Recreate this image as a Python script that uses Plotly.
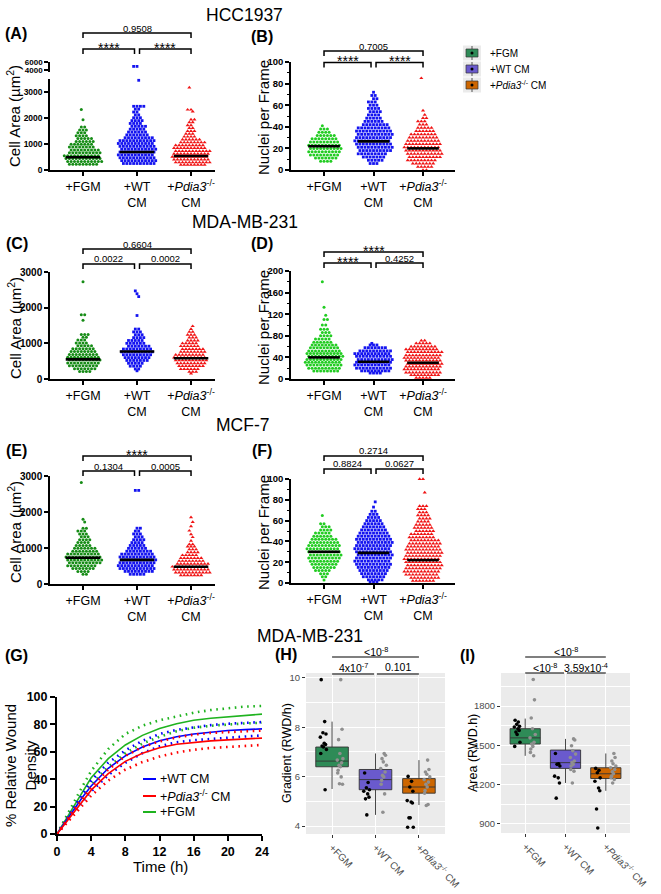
import plotly.graph_objects as go

W, H = 661, 894
FONT = "Arial, 'Liberation Sans', sans-serif"

# ---------------- DATA ----------------
cat_labels_prism = ["+FGM", "+WT<br>CM", "+<i>Pdia3</i><sup>-/-</sup><br>CM"]
cat_labels_gg = ["+FGM", "+WT CM", "+<i>Pdia3</i><sup>-/-</sup> CM"]
legend_labels = ["+FGM", "+WT CM", "+<i>Pdia3</i><sup>-/-</sup> CM"]
row_titles = ["HCC1937", "MDA-MB-231", "MCF-7", "MDA-MB-231"]

# swarm rows: (value, number of dots in that row)
hcc_area_fgm = [(2330,1),(1930,1),(1650,2),(1540,3),(1430,3),(1320,4),(1210,5),(1100,6),(990,7),(880,8),
                (770,9),(660,10),(550,11),(440,11),(330,11),(220,9)]
hcc_area_wt = [(4900,2),(3450,1),(2450,4),(2340,2),(2230,2),(2120,2),(2010,3),(1900,4),(1790,4),(1680,5),
               (1570,5),(1460,6),(1350,7),(1240,9),(1130,11),(1020,11),(910,11),(800,11),(690,11),(580,11),
               (470,11),(360,11),(250,10)]
hcc_area_pd = [(3170,1),(2320,2),(2250,1),(1940,2),(1830,2),(1720,2),(1610,2),(1500,3),(1390,3),(1280,4),
               (1170,6),(1060,8),(950,9),(840,10),(730,11),(620,11),(510,11),(400,11),(290,11),(200,8)]
hcc_area_mean = [490, 690, 540]
hcc_area_p = ["0.9508", "****", "****"]

hcc_nuc_fgm = [(41,1),(38,3),(35,4),(32,6),(29,8),(26,9),(23,10),(20,10),(17,10),(14,9),(11,7),(8,4)]
hcc_nuc_wt = [(72,1),(69,2),(66,2),(63,3),(60,3),(57,4),(54,4),(51,4),(48,5),(45,6),(42,8),(39,10),(36,11),
              (33,11),(30,11),(27,11),(24,11),(21,11),(18,10),(15,9),(12,7),(9,5),(6,3)]
hcc_nuc_pd = [(85,1),(55,1),(51,1),(48,2),(45,3),(42,3),(39,5),(36,6),(33,8),(30,9),(27,10),(24,11),(21,11),
              (18,11),(15,11),(12,10),(9,9),(6,7),(3,5),(0,2)]
hcc_nuc_mean = [22, 26.5, 20]
hcc_nuc_p = ["0.7005", "****", "****"]

mda_area_fgm = [(2730,1),(1800,2),(1650,1),(1250,3),(1170,2),(1090,3),(1010,4),(930,5),(850,7),(770,8),
                (690,9),(610,10),(530,10),(450,10),(370,9),(290,7),(210,4)]
mda_area_wt = [(2470,1),(2390,1),(2310,1),(1780,1),(1400,2),(1320,3),(1240,3),(1160,4),(1080,5),(1000,6),
               (920,7),(840,9),(760,10),(680,9),(600,8),(520,7),(440,5),(360,4),(280,2),(230,1)]
mda_area_pd = [(1480,1),(1400,1),(1320,2),(1240,3),(1160,3),(1080,4),(1000,5),(920,6),(840,7),(760,8),
               (680,9),(600,10),(520,10),(440,9),(360,8),(280,6),(200,3),(150,1)]
mda_area_mean = [550, 770, 580]
mda_area_p = ["0.6604", "0.0022", "0.0002"]

mda_nuc_fgm = [(180,1),(133,1),(118,1),(110,2),(100,2),(92,3),(86,3),(80,4),(74,5),(68,6),(63,8),(58,9),
               (52,10),(47,11),(42,11),(36,11),(31,11),(26,11),(20,10),(15,8)]
mda_nuc_wt = [(66,1),(63,3),(58,7),(52,10),(47,11),(42,11),(36,11),(31,11),(26,11),(20,11),(15,9),(11,4)]
mda_nuc_pd = [(71,2),(66,5),(60,8),(55,10),(50,11),(44,11),(39,11),(34,11),(28,11),(23,11),(18,11),
              (12,11),(7,9),(2,5)]
mda_nuc_mean = [40, 32, 30]
mda_nuc_p = ["****", "****", "0.4252"]

mcf_area_fgm = [(2820,1),(1800,1),(1720,1),(1550,2),(1470,3),(1390,3),(1310,3),(1230,4),(1150,4),(1070,5),
                (990,7),(910,8),(830,10),(750,11),(670,11),(590,10),(510,9),(430,7),(350,4),(270,2)]
mcf_area_wt = [(2600,2),(1550,2),(1470,2),(1390,3),(1310,3),(1230,4),(1150,4),(1070,5),(990,6),(910,8),
               (830,10),(750,11),(670,11),(590,11),(510,11),(430,11),(350,9),(270,5)]
mcf_area_pd = [(1850,1),(1720,1),(1600,1),(1480,1),(1380,1),(1300,1),(1200,1),(1100,2),(1040,3),(960,3),
               (880,4),(800,5),(720,7),(640,8),(560,10),(480,11),(400,11),(320,11),(240,7)]
mcf_area_mean = [730, 670, 480]
mcf_area_p = ["****", "0.1304", "0.0005"]

mcf_nuc_fgm = [(65,1),(57,2),(54,3),(51,4),(48,5),(45,6),(42,8),(39,9),(36,10),(33,10),(30,10),(27,10),
               (24,10),(21,9),(18,8),(15,7),(12,5),(9,3),(6,2),(3,1)]
mcf_nuc_wt = [(78,1),(73,1),(69,2),(66,3),(63,4),(60,5),(57,6),(54,7),(51,8),(48,9),(45,10),(42,11),
              (39,11),(36,11),(33,11),(30,11),(27,11),(24,11),(21,11),(18,11),(15,10),(12,9),(9,8),(6,7),(3,5),(1,3)]
mcf_nuc_pd = [(100,2),(87,1),(74,3),(71,3),(68,3),(65,4),(62,4),(59,4),(56,5),(53,6),(50,6),(47,7),(44,8),
              (41,9),(38,10),(35,10),(32,11),(29,11),(26,11),(23,11),(20,11),(17,11),(14,11),(11,11),(8,10),
              (5,9),(2,7)]
mcf_nuc_mean = [30, 29, 22]
mcf_nuc_p = ["0.2714", "0.8824", "0.0627"]

# wound density time courses
time_h = [0, 1, 2, 3, 4, 6, 8, 10, 12, 14, 16, 18, 20, 22, 24]
fgm_mean = [0, 10, 21, 31, 41, 55, 65, 72, 77, 80.5, 83, 84.5, 85.5, 86.5, 87.5]
fgm_upper = [0, 12, 24, 35, 46, 62, 73, 79, 83, 86, 88.5, 90.5, 92, 93, 93.5]
fgm_lower = [0, 9, 18, 27, 36, 49, 59, 66, 71, 75, 77.5, 79, 80, 80.7, 81.2]
wt_mean = [0, 9, 18, 27, 35, 48, 57, 63.5, 68, 71, 73, 74.5, 75.5, 76.2, 76.7]
wt_upper = [0, 10, 20, 30, 39, 52, 61, 68, 73, 76, 78, 79.5, 80.5, 81.2, 81.7]
wt_lower = [0, 8, 16, 24, 31, 43, 52, 59, 64, 67, 68.5, 69.5, 70.5, 71.3, 72]
pd_mean = [0, 8, 16, 24, 32, 44, 53, 59, 63, 65.5, 67, 68, 68.7, 69.4, 70]
pd_upper = [0, 9, 18, 26, 34, 47, 57, 63.5, 67.5, 70.5, 72.5, 73.8, 74.5, 75, 75.5]
pd_lower = [0, 7, 14, 21, 28, 39, 47, 52.5, 56.5, 59.5, 61.5, 62.8, 63.5, 64.2, 65]
wound_legend = ["+WT CM", "+<i>Pdia3</i><sup>-/-</sup> CM", "+FGM"]

# gradient (H)
grad_q1 = [6.40, 5.47, 5.33]
grad_med = [6.63, 5.88, 5.58]
grad_q3 = [7.20, 6.29, 5.92]
grad_lo = [5.50, 4.45, 4.85]
grad_hi = [8.23, 6.94, 6.67]
grad_black = [[9.93, 8.23, 7.78, 7.73, 7.6, 7.35, 7.3, 7.24, 7.2, 7.1, 6.94, 5.47],
              [6.15, 5.76, 5.55, 5.47, 5.41, 5.3, 5.17, 5.1, 4.45],
              [6.01, 5.81, 5.58, 5.41, 5.03, 4.97, 4.93, 4.33, 4.33, 3.95, 3.95]]
grad_gray = [[9.93, 7.92, 7.5, 6.94, 6.73, 6.67, 6.56, 6.46, 6.4, 6.26, 6.15, 5.99, 5.71, 5.69],
             [6.94, 6.87, 6.73, 6.6, 6.46, 6.33, 6.19, 6.05, 5.99, 5.85, 5.69, 5.3, 4.56],
             [6.67, 6.29, 6.19, 6.1, 5.99, 5.88, 5.78, 5.69, 5.58, 5.44, 5.33, 4.87, 4.83]]
grad_p = ["&lt;10<sup>-8</sup>", "4x10<sup>-7</sup>", "0.101"]

# area (I)
area_q1 = [1510, 1324, 1247]
area_med = [1557, 1368, 1283]
area_q3 = [1627, 1464, 1329]
area_lo = [1420, 1213, 1153]
area_hi = [1704, 1549, 1438]
area_black = [[1691, 1678, 1660, 1645, 1640, 1627, 1614, 1601, 1583, 1523, 1492],
              [1438, 1360, 1355, 1342, 1265, 1252, 1213, 1097],
              [1324, 1309, 1291, 1252, 1226, 1174, 1153, 1014, 869]]
area_gray = [[2002, 1847, 1709, 1627, 1583, 1557, 1523, 1510, 1492, 1472, 1446, 1420],
             [1549, 1541, 1497, 1459, 1433, 1407, 1381, 1368, 1355, 1342, 1316, 1303, 1213],
             [1438, 1407, 1381, 1360, 1342, 1329, 1316, 1298, 1283, 1265, 1252, 1239, 1213]]
area_p = ["&lt;10<sup>-8</sup>", "&lt;10<sup>-8</sup>", "3.59x10<sup>-4</sup>"]

# ---------------- STYLE ----------------
DKGREEN, LTGREEN, BLUE, RED = "#168C16", "#22CC22", "#1414F0", "#F01414"
BOX_COLORS = ["#2E8B57", "#6A5ACD", "#CD6600"]
SYMS = ["circle", "square", "triangle-up"]
SIZES = [3.0, 2.8, 3.6]
DOT_PX = 3.4
JIT = [-0.05, 0.03, -0.01, 0.06, -0.07, 0.02, 0.05, -0.03, 0.0, 0.07, -0.06, 0.04, -0.02, 0.01, -0.04]

XR_L = [-0.611, 2.444]
XR_R = [-0.667, 2.646]

fig = go.Figure()
layout = dict(width=W, height=H, autosize=False,
              margin=dict(l=0, r=0, t=0, b=0, pad=0, autoexpand=False), paper_bgcolor="white",
              plot_bgcolor="rgba(0,0,0,0)", showlegend=False, hovermode=False,
              font=dict(family=FONT, color="black"))
shapes, annotations = [], []


def dx_(t, b):
    return [t / W, b / W]


def dy_(t, b):
    return [1 - b / H, 1 - t / H]


def ann(text, x, y, size, bold=False, xanchor="center", yanchor="middle", angle=0, color="black"):
    if bold:
        text = "<b>" + text + "</b>"
    annotations.append(dict(text=text, x=x / W, y=1 - y / H, xref="paper", yref="paper", showarrow=False,
                            font=dict(size=size, family=FONT, color=color), xanchor=xanchor,
                            yanchor=yanchor, textangle=angle))


def swarm(rows, cat, dx, keep):
    xs, ys = [], []
    for r, (v, n) in enumerate(sorted(rows)):
        if not keep(v):
            continue
        shift = dx / 2 if (n % 2) != ((r + 1) % 2) else 0.0
        if r % 4 >= 2:
            shift = -shift
        for k in range(n):
            xs.append(cat + (k - (n - 1) / 2) * dx + shift)
            ys.append(v)
    return xs, ys


def prism_x(x0, x1, xr, anchor):
    return dict(domain=dx_(x0, x1), range=xr, anchor=anchor, showline=True, linecolor="black", linewidth=1.5,
                ticks="outside", ticklen=4, tickwidth=1.5, tickcolor="black", tickvals=[0, 1, 2],
                ticktext=cat_labels_prism, tickfont=dict(size=12.5, family=FONT, color="black"),
                showgrid=False, zeroline=False, automargin=False)


def prism_y(y0, y1, yr, anchor, dtick, tsize, tickvals=None, minor=None):
    d = dict(domain=dy_(y0, y1), range=yr, anchor=anchor, showline=True, linecolor="black", linewidth=1.5,
             ticks="outside", ticklen=4, tickwidth=1.5, tickcolor="black",
             tickfont=dict(size=tsize, family=FONT, color="black", weight="bold"),
             showgrid=False, zeroline=False, automargin=False)
    if tickvals is not None:
        d["tickvals"] = tickvals
    else:
        d["tick0"] = 0
        d["dtick"] = dtick
    if minor:
        d["minor"] = dict(ticks="outside", ticklen=2.5, tickwidth=1, tickcolor="black", dtick=minor)
    return d


prism_panels = [
    dict(lab="(A)", xk="xaxis", yk="yaxis", xid="x", yid="y", x0=50, x1=215, y0=79, y1=170, xr=XR_L,
         yr=[0, 3500], dtick=1000, tsize=8.5, minor=None, rows=[hcc_area_fgm, hcc_area_wt, hcc_area_pd],
         mean=hcc_area_mean, p=hcc_area_p, green=DKGREEN, btop=33, blow=49, tx=14, ty=116, lx=16, ly=33,
         title="Cell Area (µm<sup>2</sup>)", split=3500),
    dict(lab="(B)", xk="xaxis2", yk="yaxis3", xid="x2", yid="y3", x0=291, x1=455, y0=62, y1=170, xr=XR_R,
         yr=[0, 100], dtick=20, tsize=9.5, minor=10, rows=[hcc_nuc_fgm, hcc_nuc_wt, hcc_nuc_pd],
         mean=hcc_nuc_mean, p=hcc_nuc_p, green=LTGREEN, btop=51, blow=62.5, tx=263, ty=118, lx=262, ly=37,
         title="Nuclei per Frame", split=None),
    dict(lab="(C)", xk="xaxis3", yk="yaxis4", xid="x3", yid="y4", x0=50, x1=215, y0=272, y1=379, xr=XR_L,
         yr=[0, 3000], dtick=1000, tsize=10, minor=None, rows=[mda_area_fgm, mda_area_wt, mda_area_pd],
         mean=mda_area_mean, p=mda_area_p, green=DKGREEN, btop=249, blow=264, tx=14, ty=328, lx=17, ly=243,
         title="Cell Area (µm<sup>2</sup>)", split=None),
    dict(lab="(D)", xk="xaxis4", yk="yaxis5", xid="x4", yid="y5", x0=291, x1=455, y0=271, y1=379, xr=XR_R,
         yr=[0, 200], dtick=40, tsize=9.5, minor=20, rows=[mda_nuc_fgm, mda_nuc_wt, mda_nuc_pd],
         mean=mda_nuc_mean, p=mda_nuc_p, green=LTGREEN, btop=252, blow=263, tx=263, ty=328, lx=262, ly=243,
         title="Nuclei per Frame", split=None),
    dict(lab="(E)", xk="xaxis5", yk="yaxis6", xid="x5", yid="y6", x0=50, x1=215, y0=476, y1=584, xr=XR_L,
         yr=[0, 3000], dtick=1000, tsize=10, minor=None, rows=[mcf_area_fgm, mcf_area_wt, mcf_area_pd],
         mean=mcf_area_mean, p=mcf_area_p, green=DKGREEN, btop=456, blow=471, tx=14, ty=532, lx=16, ly=450,
         title="Cell Area (µm<sup>2</sup>)", split=None),
    dict(lab="(F)", xk="xaxis6", yk="yaxis7", xid="x6", yid="y7", x0=291, x1=455, y0=479, y1=583, xr=XR_R,
         yr=[0, 100], dtick=20, tsize=9.5, minor=10, rows=[mcf_nuc_fgm, mcf_nuc_wt, mcf_nuc_pd],
         mean=mcf_nuc_mean, p=mcf_nuc_p, green=LTGREEN, btop=456, blow=469, tx=263, ty=533, lx=262, ly=450,
         title="Nuclei per Frame", split=None),
]

for P in prism_panels:
    layout[P["xk"]] = prism_x(P["x0"], P["x1"], P["xr"], P["yid"])
    layout[P["yk"]] = prism_y(P["y0"], P["y1"], P["yr"], P["xid"], P["dtick"], P["tsize"], minor=P["minor"])
    dx = DOT_PX * (P["xr"][1] - P["xr"][0]) / (P["x1"] - P["x0"])
    colors = [P["green"], BLUE, RED]
    split = P["split"]
    for gi, rows in enumerate(P["rows"]):
        xs, ys = swarm(rows, gi, dx, (lambda v: v <= split) if split else (lambda v: True))
        fig.add_trace(go.Scatter(x=xs, y=ys, mode="markers", xaxis=P["xid"], yaxis=P["yid"],
                                 marker=dict(symbol=SYMS[gi], size=SIZES[gi], color=colors[gi], line_width=0),
                                 cliponaxis=False))
        if split:
            xs2, ys2 = swarm(rows, gi, dx, lambda v: v > split)
            if xs2:
                fig.add_trace(go.Scatter(x=xs2, y=ys2, mode="markers", xaxis=P["xid"], yaxis="y2",
                                         marker=dict(symbol=SYMS[gi], size=SIZES[gi], color=colors[gi],
                                                     line_width=0), cliponaxis=False))
    mx, my = [], []
    for gi, m in enumerate(P["mean"]):
        mx += [gi - 0.32, gi + 0.32, None]
        my += [m, m, None]
    fig.add_trace(go.Scatter(x=mx, y=my, mode="lines", line=dict(color="black", width=2.6),
                             xaxis=P["xid"], yaxis=P["yid"]))

    def cpx(c, P=P):
        return P["x0"] + (c - P["xr"][0]) / (P["xr"][1] - P["xr"][0]) * (P["x1"] - P["x0"])
    tip, gap = 5, 2.5
    segs = [(cpx(0), cpx(2), P["btop"]), (cpx(0), cpx(1) - gap, P["blow"]), (cpx(1) + gap, cpx(2), P["blow"])]
    for (a, b, yy), lab in zip(segs, P["p"]):
        path = "M {:.5f},{:.5f} L {:.5f},{:.5f} L {:.5f},{:.5f} L {:.5f},{:.5f}".format(
            a / W, 1 - (yy + tip) / H, a / W, 1 - yy / H, b / W, 1 - yy / H, b / W, 1 - (yy + tip) / H)
        shapes.append(dict(type="path", path=path, xref="paper", yref="paper",
                           line=dict(color="black", width=1.5)))
        if lab.startswith("*"):
            ann(lab, (a + b) / 2, yy - 1.5, 14)
        else:
            ann(lab, (a + b) / 2, yy - 5, 9.5)
    ann(P["title"], P["tx"], P["ty"], 15, angle=-90)
    ann(P["lab"], P["lx"], P["ly"], 16, bold=True)

# upper broken segment of panel A
layout["yaxis2"] = prism_y(62, 72, [3500, 6000], "x", None, 8, tickvals=[4000, 6000])

# ---------------- G: wound density ----------------
layout["xaxis7"] = dict(domain=dx_(57, 262), range=[0, 24], anchor="y8", showline=True, linecolor="black",
                        linewidth=2, ticks="outside", ticklen=5, tickwidth=2, tickcolor="black", tick0=0, dtick=4,
                        tickfont=dict(size=12.5, family=FONT, color="black", weight="bold"),
                        showgrid=False, zeroline=False, automargin=False)
layout["yaxis8"] = dict(domain=dy_(697, 834), range=[0, 100], anchor="x7", showline=True, linecolor="black",
                        linewidth=2, ticks="outside", ticklen=5, tickwidth=2, tickcolor="black", tick0=0, dtick=20,
                        tickfont=dict(size=12.5, family=FONT, color="black", weight="bold"),
                        showgrid=False, zeroline=False, automargin=False)
GGREEN, GBLUE, GRED = "#1FB31F", "#0000FF", "#FF0000"
for series, col in [((fgm_upper, fgm_lower, fgm_mean), GGREEN), ((wt_upper, wt_lower, wt_mean), GBLUE),
                    ((pd_upper, pd_lower, pd_mean), GRED)]:
    up, lo, mn = series
    for ys in (up, lo):
        fig.add_trace(go.Scatter(x=time_h, y=ys, mode="lines", xaxis="x7", yaxis="y8",
                                 line=dict(color=col, width=2.6, dash="1.6px,4.6px")))
    fig.add_trace(go.Scatter(x=time_h, y=mn, mode="lines", xaxis="x7", yaxis="y8",
                             line=dict(color=col, width=1.6)))
for i, (lab, col) in enumerate(zip(wound_legend, [GBLUE, GRED, GGREEN])):
    yy = [779, 796, 812][i]
    shapes.append(dict(type="line", xref="paper", yref="paper", x0=143 / W, x1=156 / W, y0=1 - yy / H,
                       y1=1 - yy / H, line=dict(color=col, width=2)))
    ann(lab, 158, yy, 12.5, xanchor="left")
ann("Time (h)", 160, 866, 15)
ann("% Relative Wound<br>Density", 20, 766, 15, angle=-90)
ann("(G)", 16, 655, 16, bold=True)


# ---------------- H & I: ggplot style ----------------
def gg_x(x0, x1, anchor):
    return dict(domain=dx_(x0, x1), range=[-0.6, 2.6], anchor=anchor, showline=False, ticks="outside",
                ticklen=3, tickwidth=1, tickcolor="#333333", tickvals=[0, 1, 2], ticktext=cat_labels_gg,
                tickangle=45, tickfont=dict(size=10, family=FONT, color="#4D4D4D"), showgrid=True,
                gridcolor="white", gridwidth=1.1, zeroline=False, automargin=False)


def gg_y(y0, y1, yr, anchor, tick0, dtick):
    return dict(domain=dy_(y0, y1), range=yr, anchor=anchor, showline=False, ticks="outside", ticklen=3,
                tickwidth=1, tickcolor="#333333", tick0=tick0, dtick=dtick,
                tickfont=dict(size=9.5, family=FONT, color="#4D4D4D"), showgrid=True, gridcolor="white",
                gridwidth=1.1, zeroline=False, automargin=False,
                minor=dict(dtick=dtick / 2, tick0=tick0, showgrid=True, gridcolor="white", gridwidth=0.5))


layout["xaxis8"] = gg_x(306, 445, "y9")
layout["yaxis9"] = gg_y(673, 834, [3.676, 10.2], "x8", 4, 2)
layout["xaxis9"] = gg_x(501, 630, "y10")
layout["yaxis10"] = gg_y(673, 833, [831, 2052], "x9", 900, 300)

for xa, ya in [("x8", "y9"), ("x9", "y10")]:
    shapes.append(dict(type="rect", xref=xa + " domain", yref=ya + " domain", x0=0, x1=1, y0=0, y1=1,
                       fillcolor="#EBEBEB", line_width=0, layer="below"))

for (xa, ya, q1, med, q3, lo, hi, blk, gry) in [
        ("x8", "y9", grad_q1, grad_med, grad_q3, grad_lo, grad_hi, grad_black, grad_gray),
        ("x9", "y10", area_q1, area_med, area_q3, area_lo, area_hi, area_black, area_gray)]:
    for gi in range(3):
        fig.add_trace(go.Box(x=[gi], q1=[q1[gi]], median=[med[gi]], q3=[q3[gi]], lowerfence=[lo[gi]],
                             upperfence=[hi[gi]], width=0.75, fillcolor=BOX_COLORS[gi], orientation="v",
                             line=dict(color="#333333", width=0.9), whiskerwidth=0, boxpoints=False,
                             xaxis=xa, yaxis=ya))
    for gi in range(3):
        bx = [gi - 0.2 + JIT[i % len(JIT)] for i in range(len(blk[gi]))]
        gx = [gi + 0.18 + JIT[(i + 5) % len(JIT)] for i in range(len(gry[gi]))]
        fig.add_trace(go.Scatter(x=gx, y=gry[gi], mode="markers", xaxis=xa, yaxis=ya,
                                 marker=dict(color="#8F8F8F", size=3.6, line_width=0)))
        fig.add_trace(go.Scatter(x=bx, y=blk[gi], mode="markers", xaxis=xa, yaxis=ya,
                                 marker=dict(color="black", size=3.6, line_width=0)))


def gg_brackets(x0, x1, p, top, low, tlab, llab):
    def cpx(c):
        return x0 + (c + 0.6) / 3.2 * (x1 - x0)
    segs = [(cpx(0), cpx(2), top, tlab), (cpx(0), cpx(1) - 1.5, low, llab), (cpx(1) + 1.5, cpx(2), low, llab)]
    for (a, b, yy, ly), lab in zip(segs, p):
        shapes.append(dict(type="line", xref="paper", yref="paper", x0=a / W, x1=b / W, y0=1 - yy / H,
                           y1=1 - yy / H, line=dict(color="black", width=1.2)))
        ann(lab, (a + b) / 2, ly, 10.5)


gg_brackets(306, 445, grad_p, 657, 674, 651, 667)
gg_brackets(501, 630, area_p, 657, 673, 651, 667)
ann("Gradient (RWD/h)", 287, 753, 12.5, angle=-90)
ann("Area (RWD.h)", 473, 753, 12.5, angle=-90)
ann("(H)", 286, 654, 16, bold=True)
ann("(I)", 467, 655, 16, bold=True)

# legend (top right)
for i, (lab, col) in enumerate(zip(legend_labels, BOX_COLORS)):
    cy = [53, 69, 85][i]
    shapes.append(dict(type="rect", xref="paper", yref="paper", x0=463 / W, x1=481 / W, y0=1 - (cy + 7.5) / H,
                       y1=1 - (cy - 7.5) / H, fillcolor="#EBEBEB", line_width=0))
    shapes.append(dict(type="line", xref="paper", yref="paper", x0=472 / W, x1=472 / W, y0=1 - (cy + 7) / H,
                       y1=1 - (cy - 7) / H, line=dict(color="#555555", width=1)))
    shapes.append(dict(type="rect", xref="paper", yref="paper", x0=466 / W, x1=478 / W, y0=1 - (cy + 4) / H,
                       y1=1 - (cy - 4) / H, fillcolor=col, line=dict(color="#333333", width=0.7)))
    shapes.append(dict(type="circle", xref="paper", yref="paper", x0=470.5 / W, x1=473.5 / W,
                       y0=1 - (cy + 1.5) / H, y1=1 - (cy - 1.5) / H, fillcolor="black", line_width=0))
    ann(lab, 488, cy, 10, xanchor="left")

# row titles
for t, (x, y) in zip(row_titles, [(244, 15), (245, 222), (242, 425), (310, 636)]):
    ann(t, x, y, 17.5)

layout["shapes"] = shapes
layout["annotations"] = annotations
fig.update_layout(**layout)
fig.write_html("out.html", config={"displayModeBar": False, "displaylogo": False},
               post_script="document.body.style.margin='0px';document.body.style.overflow='hidden';")
